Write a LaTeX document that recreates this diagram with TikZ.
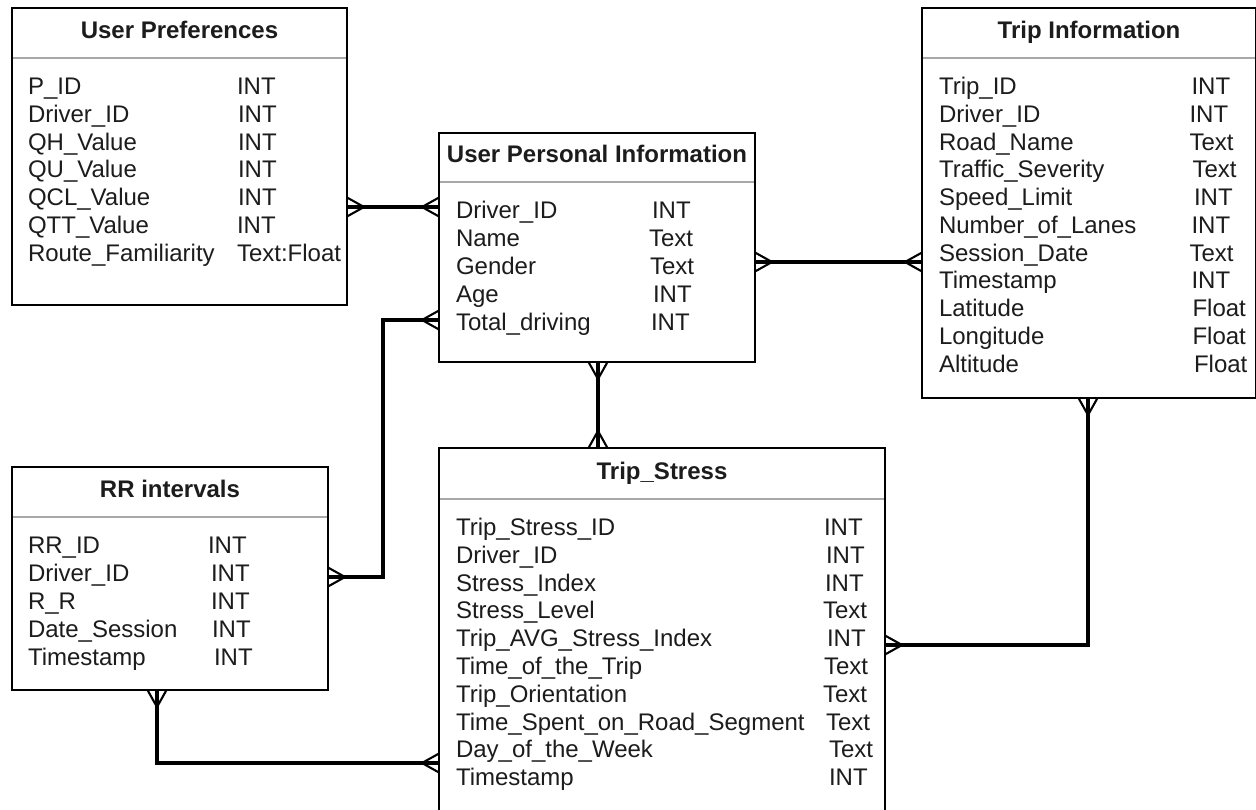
\documentclass[tikz,border=0pt]{standalone}
\usepackage{fontspec}
\setmainfont{Liberation Sans}
\usetikzlibrary{calc}
\definecolor{ink}{HTML}{1C1C1C}
\definecolor{rulegray}{HTML}{A8A8A8}

\begin{document}
\begin{tikzpicture}[x=1pt,y=-1pt,
  every node/.style={font=\fontsize{24}{28}\selectfont, text=ink, inner sep=0pt, outer sep=0pt},
  tablebox/.style={draw=black, line width=1.5pt, fill=white, anchor=north west},
  tabletitle/.style={anchor=base, font=\fontsize{24}{28}\selectfont\bfseries},
  field/.style={anchor=base west},
  sepline/.style={draw=rulegray, line width=1.2pt, shorten <=0.75pt, shorten >=0.75pt},
  conn/.style={draw=black, line width=3.3pt},
  crowline/.style={draw=black, line width=2.1pt},
  crow/.pic={\draw[crowline] (-17,0) -- (0,9.5) (-17,0) -- (0,-9.5) (-17,0) -- (0,0);}
]
\useasboundingbox (0,0) rectangle (1256,809);

% ---------- table frames ----------
\node[tablebox, minimum width=335pt, minimum height=297pt] (up)  at (12,8)   {};
\node[tablebox, minimum width=334pt, minimum height=390pt] (ti)  at (922,8)  {};
\node[tablebox, minimum width=316pt, minimum height=229pt] (upi) at (439,133) {};
\node[tablebox, minimum width=316pt, minimum height=223pt] (rr)  at (12,467) {};
\node[tablebox, minimum width=446pt, minimum height=372pt] (ts)  at (439,448) {};

% ---------- header separators ----------
\draw[sepline] ($(up.north west)+(0,50)$)  -- ($(up.north east)+(0,50)$);
\draw[sepline] ($(ti.north west)+(0,50)$)  -- ($(ti.north east)+(0,50)$);
\draw[sepline] ($(upi.north west)+(0,49)$) -- ($(upi.north east)+(0,49)$);
\draw[sepline] ($(rr.north west)+(0,50)$)  -- ($(rr.north east)+(0,50)$);
\draw[sepline] ($(ts.north west)+(0,51)$)  -- ($(ts.north east)+(0,51)$);

% ---------- titles ----------
\node[tabletitle] (up-title)  at ($(up.north)+(0,30.5)$)  {User Preferences};
\node[tabletitle] (ti-title)  at ($(ti.north)+(0,30.5)$)  {Trip Information};
\node[tabletitle] (upi-title) at ($(upi.north)+(0,29.5)$) {User Personal Information};
\node[tabletitle] (rr-title)  at ($(rr.north)+(0,30.5)$)  {RR intervals};
\node[tabletitle] (ts-title)  at ($(ts.north)+(0,31.5)$)  {Trip\_Stress};

% ---------- fields ----------
\foreach \fa/\ty/\tx [count=\i from 0] in {
  P\_ID/INT/237, Driver\_ID/INT/238, QH\_Value/INT/238, QU\_Value/INT/238,
  QCL\_Value/INT/238, QTT\_Value/INT/237, Route\_Familiarity/Text:Float/237}
{
  \node[field] (up-f\i) at (28,{94.5+27.8*\i}) {\fa};
  \node[field] (up-d\i) at (\tx,{94.5+27.8*\i}) {\ty};
}

\foreach \fa/\ty/\tx [count=\i from 0] in {
  Trip\_ID/INT/1191.5, Driver\_ID/INT/1189.5, Road\_Name/Text/1189.5,
  Traffic\_Severity/Text/1192.5, Speed\_Limit/INT/1194, Number\_of\_Lanes/INT/1191.5,
  Session\_Date/Text/1189.5, Timestamp/INT/1191.5, Latitude/Float/1192.5,
  Longitude/Float/1192.5, Altitude/Float/1194}
{
  \node[field] (ti-f\i) at (939,{94.5+27.75*\i}) {\fa};
  \node[field] (ti-d\i) at (\tx,{94.5+27.75*\i}) {\ty};
}

\foreach \fa/\ty/\tx [count=\i from 0] in {
  Driver\_ID/INT/652, Name/Text/649, Gender/Text/650, Age/INT/653,
  Total\_driving/INT/651}
{
  \node[field] (upi-f\i) at (456,{218.5+27.9*\i}) {\fa};
  \node[field] (upi-d\i) at (\tx,{218.5+27.9*\i}) {\ty};
}

\foreach \fa/\ty/\tx [count=\i from 0] in {
  RR\_ID/INT/208, Driver\_ID/INT/211, R\_R/INT/211, Date\_Session/INT/212,
  Timestamp/INT/214}
{
  \node[field] (rr-f\i) at (28,{553.5+27.9*\i}) {\fa};
  \node[field] (rr-d\i) at (\tx,{553.5+27.9*\i}) {\ty};
}

\foreach \fa/\ty/\tx [count=\i from 0] in {
  Trip\_Stress\_ID/INT/824, Driver\_ID/INT/826, Stress\_Index/INT/825,
  Stress\_Level/Text/823, Trip\_AVG\_Stress\_Index/INT/827,
  Time\_of\_the\_Trip/Text/824, Trip\_Orientation/Text/823,
  Time\_Spent\_on\_Road\_Segment/Text/826, Day\_of\_the\_Week/Text/829,
  Timestamp/INT/829}
{
  \node[field] (ts-f\i) at (456,{535.5+27.8*\i}) {\fa};
  \node[field] (ts-d\i) at (\tx,{535.5+27.8*\i}) {\ty};
}

% ---------- relationship routing levels ----------
\coordinate (lvl-a) at (0,207);
\coordinate (lvl-b) at (0,262);
\coordinate (lvl-c) at (0,320);
\coordinate (bend-c) at (383,577);
\coordinate (col-d) at (598,0);
\coordinate (bend-e) at (1088,645);
\coordinate (bend-f) at (157,763);

% ---------- connectors ----------
\draw[conn] (up.east |- lvl-a) -- (upi.west |- lvl-a);
\draw[conn] (upi.east |- lvl-b) -- (ti.west |- lvl-b);
\draw[conn] (upi.west |- lvl-c) -| (bend-c) -- (rr.east |- bend-c);
\draw[conn] (upi.south -| col-d) -- (ts.north -| col-d);
\draw[conn] (ti.south -| bend-e) |- (ts.east |- bend-e);
\draw[conn] (rr.south -| bend-f) |- (ts.west |- bend-f);

% ---------- crow's feet (many) ----------
\pic[rotate=180] at (up.east |- lvl-a)  {crow};
\pic             at (upi.west |- lvl-a) {crow};
\pic[rotate=180] at (upi.east |- lvl-b) {crow};
\pic             at (ti.west |- lvl-b)  {crow};
\pic             at (upi.west |- lvl-c) {crow};
\pic[rotate=180] at (rr.east |- bend-c) {crow};
\pic[rotate=90]  at (upi.south -| col-d) {crow};
\pic[rotate=-90] at (ts.north -| col-d) {crow};
\pic[rotate=90]  at (ti.south -| bend-e) {crow};
\pic[rotate=180] at (ts.east |- bend-e) {crow};
\pic[rotate=90]  at (rr.south -| bend-f) {crow};
\pic             at (ts.west |- bend-f) {crow};
\end{tikzpicture}
\end{document}
